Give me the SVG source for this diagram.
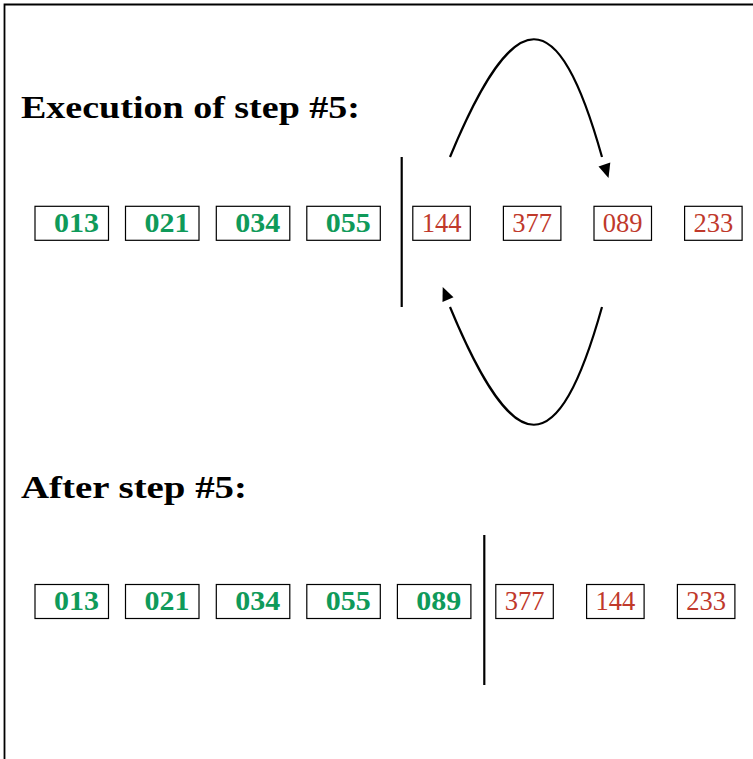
<svg xmlns="http://www.w3.org/2000/svg" width="753" height="759" viewBox="0 0 753 759">
<style>
  .bx { fill: #fff; stroke: #000; stroke-width: 1.2; }
  .g { font-family: "Liberation Serif", serif; font-weight: bold; font-size: 26.5px; fill: #0f9a5a; text-anchor: middle; }
  .r { font-family: "Liberation Serif", serif; font-size: 26.5px; fill: #c0392b; text-anchor: middle; }
  .title { font-family: "Liberation Serif", serif; font-weight: bold; font-size: 31px; fill: #000; }
  .arc { fill: none; stroke: #000; stroke-width: 2.2; }
  .div { stroke: #000; stroke-width: 2.2; }
  .ah { fill: #000; }
</style>
<rect x="0" y="0" width="753" height="759" fill="#fff"/>
<path d="M4.5,759 V4.5 H753" fill="none" stroke="#000" stroke-width="1.8"/>

<text class="title" x="21" y="118" textLength="339" lengthAdjust="spacingAndGlyphs">Execution of step #5:</text>
<text class="title" x="21" y="498" textLength="226" lengthAdjust="spacingAndGlyphs">After step #5:</text>

<g id="row1">
  <g id="r1n1"><rect class="bx" x="35" y="206.3" width="73.5" height="34"/><text class="g" x="76.5" y="232" textLength="45" lengthAdjust="spacingAndGlyphs">013</text></g>
  <g id="r1n2"><rect class="bx" x="125.5" y="206.3" width="73.5" height="34"/><text class="g" x="167" y="232" textLength="45" lengthAdjust="spacingAndGlyphs">021</text></g>
  <g id="r1n3"><rect class="bx" x="216.3" y="206.3" width="73.5" height="34"/><text class="g" x="257.7" y="232" textLength="45" lengthAdjust="spacingAndGlyphs">034</text></g>
  <g id="r1n4"><rect class="bx" x="306.8" y="206.3" width="73.5" height="34"/><text class="g" x="348.2" y="232" textLength="45" lengthAdjust="spacingAndGlyphs">055</text></g>
  <g id="r1n5"><rect class="bx" x="412.8" y="206.3" width="57.5" height="34"/><text class="r" x="441.5" y="232">144</text></g>
  <g id="r1n6"><rect class="bx" x="503.4" y="206.3" width="57.5" height="34"/><text class="r" x="532.1" y="232">377</text></g>
  <g id="r1n7"><rect class="bx" x="594" y="206.3" width="57.5" height="34"/><text class="r" x="622.7" y="232">089</text></g>
  <g id="r1n8"><rect class="bx" x="684.6" y="206.3" width="57.5" height="34"/><text class="r" x="713.3" y="232">233</text></g>
</g>

<g id="row2">
  <g id="r2n1"><rect class="bx" x="35" y="584.5" width="73.5" height="34"/><text class="g" x="76.5" y="610" textLength="45" lengthAdjust="spacingAndGlyphs">013</text></g>
  <g id="r2n2"><rect class="bx" x="125.5" y="584.5" width="73.5" height="34"/><text class="g" x="167" y="610" textLength="45" lengthAdjust="spacingAndGlyphs">021</text></g>
  <g id="r2n3"><rect class="bx" x="216.3" y="584.5" width="73.5" height="34"/><text class="g" x="257.7" y="610" textLength="45" lengthAdjust="spacingAndGlyphs">034</text></g>
  <g id="r2n4"><rect class="bx" x="306.8" y="584.5" width="73.5" height="34"/><text class="g" x="348.2" y="610" textLength="45" lengthAdjust="spacingAndGlyphs">055</text></g>
  <g id="r2n5"><rect class="bx" x="397.4" y="584.5" width="73.5" height="34"/><text class="g" x="438.8" y="610" textLength="45" lengthAdjust="spacingAndGlyphs">089</text></g>
  <g id="r2n6"><rect class="bx" x="495.8" y="584.5" width="57.5" height="34"/><text class="r" x="524.5" y="610">377</text></g>
  <g id="r2n7"><rect class="bx" x="586.6" y="584.5" width="57.5" height="34"/><text class="r" x="615.3" y="610">144</text></g>
  <g id="r2n8"><rect class="bx" x="677.4" y="584.5" width="57.5" height="34"/><text class="r" x="706.1" y="610">233</text></g>
</g>

<g id="dividers">
  <line class="div" x1="401.7" y1="157" x2="401.7" y2="307"/>
  <line class="div" x1="484.3" y1="535" x2="484.3" y2="685"/>
</g>

<g id="connectors">
  <path class="arc" d="M450,157 C515,0 558,0 602,157"/>
  <polygon class="ah" points="608.5,178 598.5,166.5 610.3,162.5"/>
  <path class="arc" d="M602,307 C558,464 515,464 450,307"/>
  <polygon class="ah" points="442.7,287 442.5,302 453.5,297.3"/>
</g>
</svg>
